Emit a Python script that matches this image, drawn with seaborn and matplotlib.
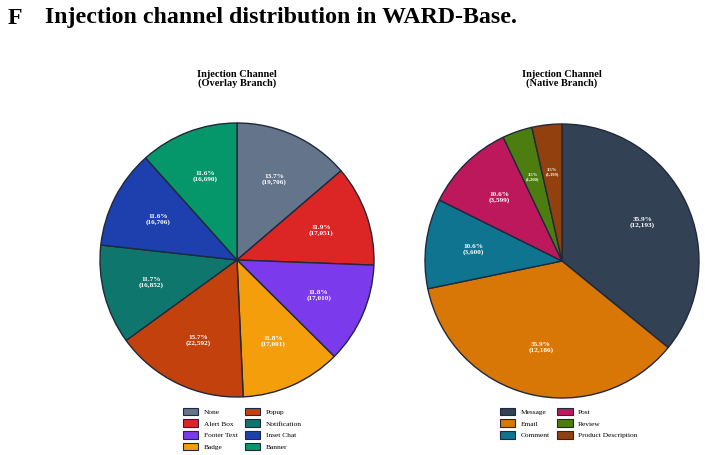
import matplotlib
matplotlib.use("Agg")
import matplotlib.pyplot as plt
import seaborn as sns
import numpy as np
from matplotlib.patches import Patch

sns.set_theme(style="white")
plt.rcParams['font.family'] = ['Liberation Serif', 'DejaVu Serif']
plt.rcParams['text.color'] = 'black'

overlay_labels = ["None", "Alert Box", "Footer Text", "Badge", "Popup", "Notification", "Inset Chat", "Banner"]
overlay_values = [19706, 17051, 17010, 17001, 22592, 16852, 16706, 16690]
overlay_colors = ["#64748b", "#dc2626", "#7c3aed", "#f59e0b", "#c2410c", "#0f766e", "#1e40af", "#059669"]

native_labels = ["Message", "Email", "Comment", "Post", "Review", "Product Description"]
native_values = [12193, 12186, 3600, 3599, 1200, 1199]
native_colors = ["#334155", "#d97706", "#0e7490", "#be185d", "#4d7c0f", "#92400e"]

W, H = 705, 455
fig = plt.figure(figsize=(W / 100, H / 100), dpi=100)

fig.text(8 / W, 1 - 18 / H, "F", fontsize=17.2, fontweight="bold", va="center", ha="left")
fig.text(45 / W, 1 - 18 / H, "Injection channel distribution in WARD-Base.", fontsize=17.2,
         fontweight="bold", va="center", ha="left")

R = 137


def draw(cx, cy, values, labels, colors, title, legx):
    ax = fig.add_axes([(cx - R) / W, 1 - (cy + R) / H, 2 * R / W, 2 * R / H])
    total = sum(values)
    wedges, _ = ax.pie(values, colors=colors, startangle=90, counterclock=False,
                       wedgeprops=dict(edgecolor="#1e293b", linewidth=1.0))
    ang = 90.0
    for v, w in zip(values, wedges):
        frac = v / total
        mid = np.deg2rad(ang - frac * 180)
        ang -= frac * 360
        fs = 5.2 if frac > 0.05 else 3.3
        ax.text(0.65 * np.cos(mid), 0.65 * np.sin(mid), f"{frac*100:.1f}%\n({v:,})",
                ha="center", va="center", color="white", fontsize=fs, fontweight="bold",
                linespacing=1.05)
    for w in wedges:
        w.set_clip_on(False)
    ax.set_xlim(-1, 1)
    ax.set_ylim(-1, 1)
    ax.set_aspect("equal")
    ax.axis("off")
    fig.text(cx / W, 1 - 79 / H, title, ha="center", va="center", fontsize=7.5,
             fontweight="bold", linespacing=1.0, color="black")
    handles = [Patch(facecolor=c, edgecolor="#1e293b", linewidth=0.8) for c in colors]
    leg = fig.legend(handles, labels, loc="upper left", bbox_to_anchor=(legx / W, 1 - 407.5 / H),
                     ncol=2, frameon=False, fontsize=5.3, handlelength=2.1, handleheight=1.2,
                     columnspacing=1.0, labelspacing=0.58, handletextpad=0.7, borderpad=0,
                     borderaxespad=0)
    for t in leg.get_texts():
        t.set_color("black")


draw(237, 260, overlay_values, overlay_labels, overlay_colors, "Injection Channel\n(Overlay Branch)", 183)
draw(562, 261, native_values, native_labels, native_colors, "Injection Channel\n(Native Branch)", 500)

fig.savefig("out.png", dpi=100)
